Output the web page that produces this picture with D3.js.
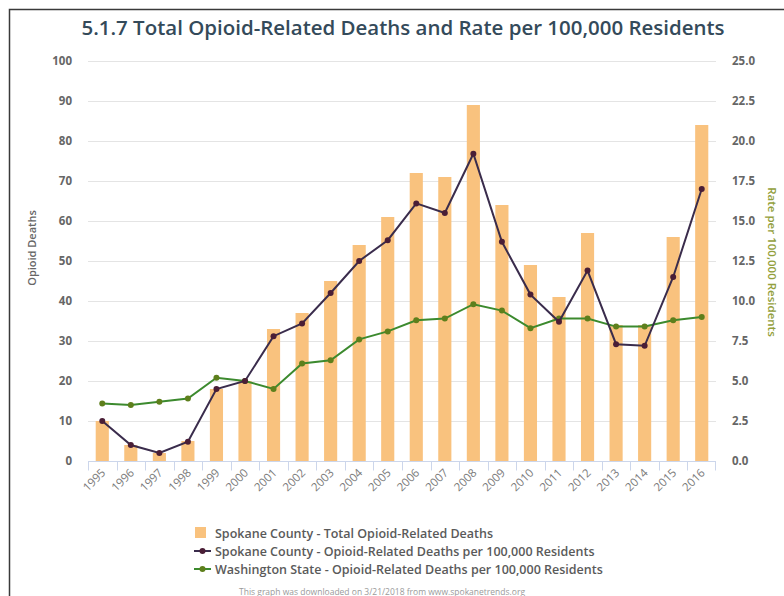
<!DOCTYPE html>
<html>
<head>
<meta charset="utf-8">
<script src="https://cdn.jsdelivr.net/npm/d3@7"></script>
<style>
  html, body { margin: 0; padding: 0; background: #fff; overflow: hidden; }
  svg { display: block; }
  text { font-family: "Open Sans", "DejaVu Sans", sans-serif; }
</style>
</head>
<body>
<svg id="chart" width="784" height="596"></svg>
<script>
// Years on the category axis
const years = ["1995","1996","1997","1998","1999","2000","2001","2002","2003","2004","2005",
               "2006","2007","2008","2009","2010","2011","2012","2013","2014","2015","2016"];

// Spokane County – total opioid-related deaths (bars, left axis)
const spokaneDeaths = [10, 4, 2, 5, 18, 20, 33, 37, 45, 54, 61, 72, 71, 89, 64, 49, 41, 57, 34, 34, 56, 84];

// Spokane County – deaths per 100,000 residents (right axis)
const spokaneRate = [2.5, 1.0, 0.5, 1.2, 4.5, 5.0, 7.8, 8.6, 10.5, 12.5, 13.8, 16.1, 15.5, 19.2,
                     13.7, 10.4, 8.7, 11.9, 7.3, 7.2, 11.5, 17.0];

// Washington State – deaths per 100,000 residents (right axis)
const waRate = [3.6, 3.5, 3.7, 3.9, 5.2, 5.0, 4.5, 6.1, 6.3, 7.6, 8.1, 8.8, 8.9, 9.8,
                9.4, 8.3, 8.9, 8.9, 8.4, 8.4, 8.8, 9.0];

// Tick values
const leftTicks = [0, 10, 20, 30, 40, 50, 60, 70, 80, 90, 100];
const rightTicks = [0, 2.5, 5, 7.5, 10, 12.5, 15, 17.5, 20, 22.5, 25];

const legendLabels = [
  "Spokane County - Total Opioid-Related Deaths",
  "Spokane County - Opioid-Related Deaths per 100,000 Residents",
  "Washington State - Opioid-Related Deaths per 100,000 Residents"
];

const colors = {
  bar: "#f9c27e",
  spokane: "#3a2c4c",
  spokaneMarker: "#4a1e36",
  wa: "#3c8a2e",
  waMarker: "#5e7f1c",
  grid: "#e4e4e4",
  tick: "#666666",
  xTick: "#7a7a7a",
  title: "#344a5a",
  rightTitle: "#93a03c"
};

const svg = d3.select("#chart");

// Background
svg.append("rect").attr("width", 784).attr("height", 596).attr("fill", "#fff");

// Outer frame (top and left edges fall inside the canvas)
svg.append("path")
  .attr("d", "M9.5,596 V9.5 H784")
  .attr("fill", "none").attr("stroke", "#3a3a3a").attr("stroke-width", 1.5);

const plot = { left: 88, right: 716, top: 61, bottom: 461 };

const x = d3.scaleBand().domain(years).range([plot.left, plot.right]).paddingInner(0.54).paddingOuter(0.27);
const xOuter = d3.scaleBand().domain(years).range([plot.left, plot.right]);
const yLeft = d3.scaleLinear().domain([0, 100]).range([plot.bottom, plot.top]);
const yRight = d3.scaleLinear().domain([0, 25]).range([plot.bottom, plot.top]);

// Title
svg.append("text")
  .attr("x", 403).attr("y", 35)
  .attr("text-anchor", "middle")
  .attr("font-size", 19).attr("font-weight", 600)
  .attr("fill", colors.title)
  .attr("textLength", 643).attr("lengthAdjust", "spacingAndGlyphs")
  .text("5.1.7 Total Opioid-Related Deaths and Rate per 100,000 Residents");

// Gridlines
svg.append("g")
  .selectAll("line")
  .data(leftTicks)
  .join("line")
  .attr("x1", plot.left).attr("x2", plot.right)
  .attr("y1", d => Math.round(yLeft(d)) + 0.5).attr("y2", d => Math.round(yLeft(d)) + 0.5)
  .attr("stroke", colors.grid).attr("stroke-width", 1);

// Left axis
const leftAxis = svg.append("g")
  .attr("transform", `translate(${plot.left},0)`)
  .call(d3.axisLeft(yLeft).tickValues(leftTicks).tickSize(0).tickPadding(16).tickFormat(d3.format("d")));
leftAxis.select(".domain").remove();
leftAxis.selectAll("text")
  .attr("font-family", "DejaVu Sans, sans-serif")
  .attr("font-size", 11.5).attr("font-weight", "bold").attr("fill", colors.tick);

// Right axis
const rightAxis = svg.append("g")
  .attr("transform", `translate(${plot.right},0)`)
  .call(d3.axisRight(yRight).tickValues(rightTicks).tickSize(0).tickPadding(16).tickFormat(d3.format(".1f")));
rightAxis.select(".domain").remove();
rightAxis.selectAll("text")
  .attr("font-family", "DejaVu Sans, sans-serif")
  .attr("font-size", 11.5).attr("font-weight", "bold").attr("fill", colors.tick);

// Axis titles
svg.append("text")
  .attr("transform", "translate(36,248) rotate(-90)")
  .attr("text-anchor", "middle")
  .attr("font-size", 11).attr("font-weight", 600).attr("fill", colors.tick)
  .text("Opioid Deaths");

svg.append("text")
  .attr("transform", "translate(768,262) rotate(90)")
  .attr("text-anchor", "middle")
  .attr("font-size", 11.5).attr("font-weight", 600).attr("fill", colors.rightTitle)
  .text("Rate per 100,000 Residents");

// Bars
svg.append("g")
  .selectAll("rect")
  .data(years)
  .join("rect")
  .attr("x", (d) => x(d))
  .attr("width", x.bandwidth())
  .attr("y", (d, i) => yLeft(spokaneDeaths[i]))
  .attr("height", (d, i) => yLeft(0) - yLeft(spokaneDeaths[i]))
  .attr("fill", colors.bar);

// Bottom axis with ticks at category boundaries
const bottom = svg.append("g").attr("transform", `translate(0,${plot.bottom + 0.5})`);
bottom.append("line")
  .attr("x1", plot.left).attr("x2", plot.right)
  .attr("stroke", "#ccd6eb");
bottom.selectAll("line.tick")
  .data(years.concat(["end"]))
  .join("line")
  .attr("class", "tick")
  .attr("x1", (d, i) => i < years.length ? Math.round(xOuter(d)) + 0.5 : plot.right - 0.5)
  .attr("x2", (d, i) => i < years.length ? Math.round(xOuter(d)) + 0.5 : plot.right - 0.5)
  .attr("y1", 0).attr("y2", 9)
  .attr("stroke", "#ccd6eb");

bottom.selectAll("text")
  .data(years)
  .join("text")
  .attr("transform", d => `translate(${xOuter(d) + xOuter.bandwidth() / 2 + 4},${12}) rotate(-45)`)
  .attr("text-anchor", "end")
  .attr("font-family", "DejaVu Sans, sans-serif")
  .attr("font-size", 11.5).attr("fill", colors.xTick)
  .text(d => d);

// Rate lines
const cx = d => xOuter(d) + xOuter.bandwidth() / 2;

function drawSeries(values, lineColor, markerColor) {
  const line = d3.line().x((d, i) => cx(years[i])).y(d => yRight(d));
  svg.append("path")
    .datum(values)
    .attr("d", line)
    .attr("fill", "none")
    .attr("stroke", lineColor)
    .attr("stroke-width", 2);
  svg.append("g")
    .selectAll("circle")
    .data(values)
    .join("circle")
    .attr("cx", (d, i) => cx(years[i]))
    .attr("cy", d => yRight(d))
    .attr("r", 3)
    .attr("fill", markerColor);
}

drawSeries(waRate, colors.wa, colors.waMarker);
drawSeries(spokaneRate, colors.spokane, colors.spokaneMarker);

// Legend
const legend = svg.append("g");
const rowY = [533, 551, 569];
legend.append("rect")
  .attr("x", 195).attr("y", rowY[0] - 6).attr("width", 11).attr("height", 11)
  .attr("fill", colors.bar);
[[colors.spokane, colors.spokaneMarker], [colors.wa, colors.waMarker]].forEach((c, k) => {
  const yy = rowY[k + 1];
  legend.append("line")
    .attr("x1", 194).attr("x2", 211).attr("y1", yy).attr("y2", yy)
    .attr("stroke", c[0]).attr("stroke-width", 2);
  legend.append("circle")
    .attr("cx", 202.5).attr("cy", yy).attr("r", 3).attr("fill", c[1]);
});
legend.selectAll("text")
  .data(legendLabels)
  .join("text")
  .attr("x", 215)
  .attr("y", (d, i) => rowY[i] + 4.5)
  .attr("font-size", 12.5).attr("font-weight", 600).attr("fill", "#5a5a5a")
  .text(d => d);

// Footer credit
svg.append("text")
  .attr("x", 382).attr("y", 595)
  .attr("text-anchor", "middle")
  .attr("font-size", 8.5).attr("fill", "#9a9a9a")
  .text("This graph was downloaded on 3/21/2018 from www.spokanetrends.org");
</script>
</body>
</html>
